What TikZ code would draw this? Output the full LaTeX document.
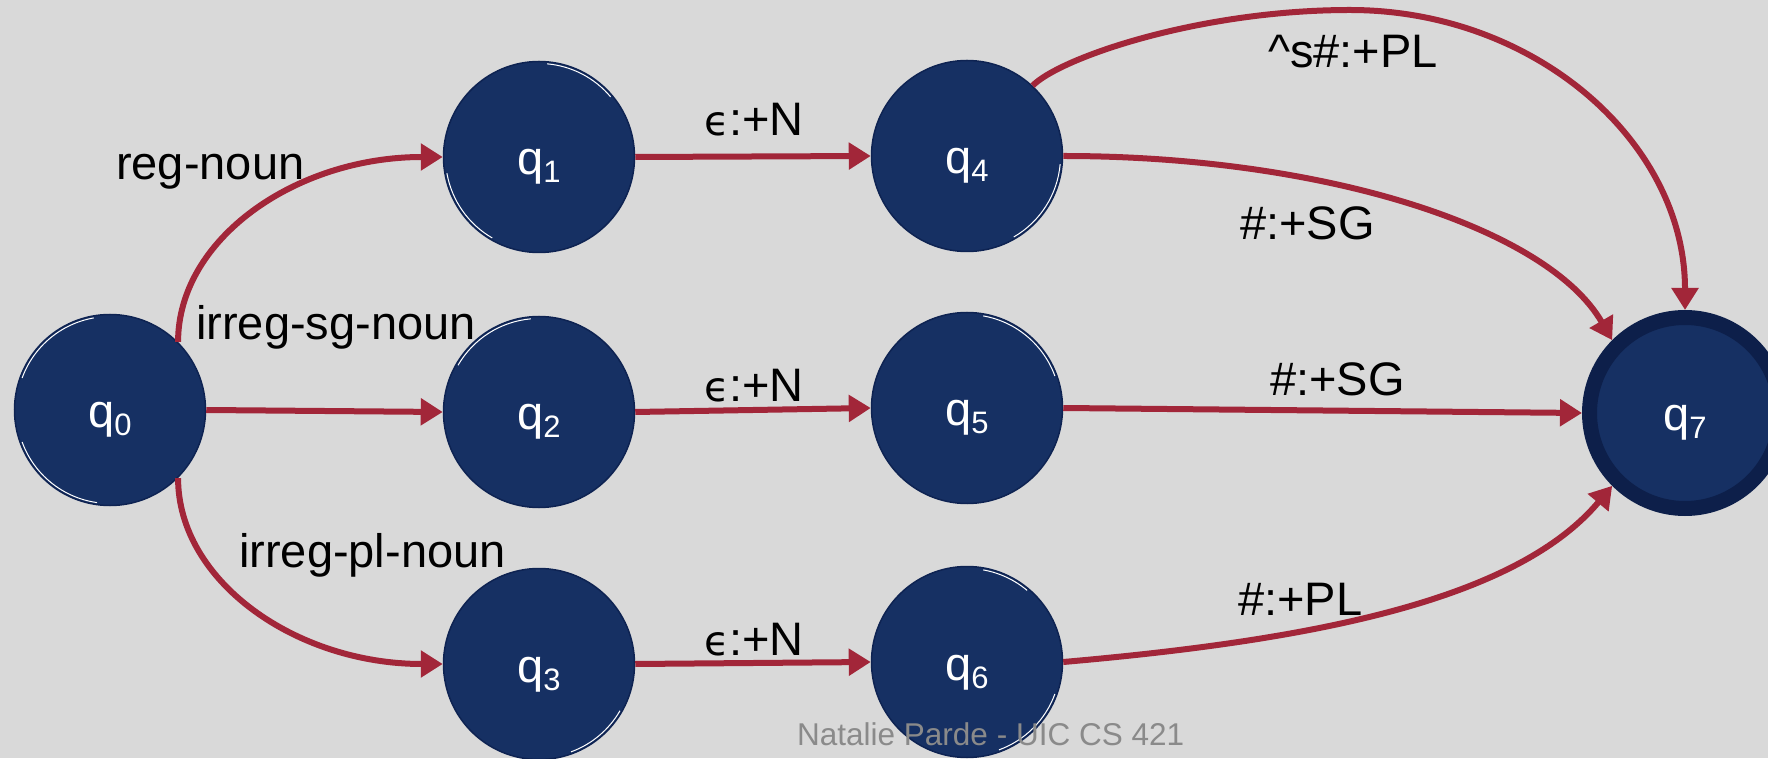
\documentclass[tikz,border=0pt]{standalone}
\usepackage{fontspec}
\setmainfont{Liberation Sans}
\newfontfamily\djv{DejaVu Sans}
\usetikzlibrary{arrows.meta}
\definecolor{bg}{HTML}{D9D9D9}
\definecolor{navy}{HTML}{163063}
\definecolor{navyd}{HTML}{0E2352}
\definecolor{navyb}{HTML}{0D1F4A}
\definecolor{arr}{HTML}{A22639}
\definecolor{foot}{HTML}{8A8A8A}
\newcommand\qs[1]{q\raisebox{-8pt}{\fontsize{31}{31}\selectfont #1}}
\newcommand\epsg{{\djv\fontsize{41}{41}\selectfont ϵ}}
\begin{document}
\begin{tikzpicture}[x=1pt,y=1pt,
  state/.style={circle,fill=navy,draw=navyd,line width=1.5pt,minimum size=191pt,inner sep=0pt,
    text=white,font=\fontsize{47}{47}\selectfont,text height=40pt,text depth=4pt},
  final/.style={state,draw=navyb,line width=15pt},
  edge/.style={draw=arr,line width=6pt,-{Triangle[length=22pt,width=26pt]}},
  hl/.style={draw=white,line width=1pt},
  lbl/.style={inner sep=0pt,anchor=base west,font=\fontsize{47}{47}\selectfont}]
\useasboundingbox (0,0) rectangle (1768,758);
\fill[bg] (0,0) rectangle (1768,758);
\clip (0,0) rectangle (1768,758);
\node[state] (q0) at (110,348) {\qs{0}};
\node[state] (q1) at (539,601) {\qs{1}};
\node[state] (q2) at (539,346) {\qs{2}};
\node[state] (q3) at (539,94) {\qs{3}};
\node[state] (q4) at (967,602) {\qs{4}};
\node[state] (q5) at (967,350) {\qs{5}};
\node[state] (q6) at (967,96) {\qs{6}};
\node[final] (q7) at (1685,345) {\qs{7}};
% sketchy highlights
\draw[hl] (q0.center) ++(100:93.5) arc[start angle=100,end angle=160,radius=93.5];
\draw[hl] (q0.center) ++(200:93.5) arc[start angle=200,end angle=262,radius=93.5];
\draw[hl] (q1.center) ++(190:93.5) arc[start angle=190,end angle=240,radius=93.5];
\draw[hl] (q1.center) ++(40:93.5) arc[start angle=40,end angle=85,radius=93.5];
\draw[hl] (q2.center) ++(95:93.5) arc[start angle=95,end angle=150,radius=93.5];
\draw[hl] (q3.center) ++(-70:93.5) arc[start angle=-70,end angle=-30,radius=93.5];
\draw[hl] (q4.center) ++(-60:93.5) arc[start angle=-60,end angle=-5,radius=93.5];
\draw[hl] (q5.center) ++(20:93.5) arc[start angle=20,end angle=80,radius=93.5];
\draw[hl] (q6.center) ++(50:93.5) arc[start angle=50,end angle=80,radius=93.5];
\draw[hl] (q6.center) ++(-70:93.5) arc[start angle=-70,end angle=-20,radius=93.5];
% connectors
\coordinate (top) at (1350,748);
\draw[edge] (q0.45) to[out=90,in=180,out distance=103pt,in distance=147pt] (q1.west);
\draw[edge] (q0.east) -- (q2.west);
\draw[edge] (q0.-45) to[out=-90,in=180,out distance=103pt,in distance=147pt] (q3.west);
\draw[edge] (q1.east) -- (q4.west);
\draw[edge] (q2.east) -- (q5.west);
\draw[edge] (q3.east) -- (q6.west);
\draw[edge] (q4.east) to[out=0,in=120,out distance=260pt,in distance=130pt] (q7.135);
\draw[edge] (q4.47) to[out=45,in=180,out distance=40pt,in distance=150pt] (top)
   to[out=0,in=90,out distance=185pt,in distance=168pt] (q7.north);
\draw[edge] (q5.east) -- (q7.west);
\draw[edge] (q6.east) to[out=5,in=-130,out distance=250pt,in distance=150pt] (q7.-135);
% labels
\node[lbl] (l0) at (116,578) {reg-noun};
\node[lbl] (l1) at (196,418) {irreg-sg-noun};
\node[lbl] (l2) at (239,191) {irreg-pl-noun};
\node[lbl] (l3) at (704,622) {\epsg:+N};
\node[lbl] (l4) at (704,356) {\epsg:+N};
\node[lbl] (l5) at (704,103) {\epsg:+N};
\node[lbl] (l6) at (1268,690) {\textasciicircum s\#:+PL};
\node[lbl] (l7) at (1240,518) {\#:+SG};
\node[lbl] (l8) at (1270,362) {\#:+SG};
\node[lbl] (l9) at (1238,143) {\#:+PL};
\node[lbl,font=\fontsize{31.5}{31.5}\selectfont,text=foot] (ft) at (797,13) {Natalie Parde - UIC CS 421};
\end{tikzpicture}
\end{document}
